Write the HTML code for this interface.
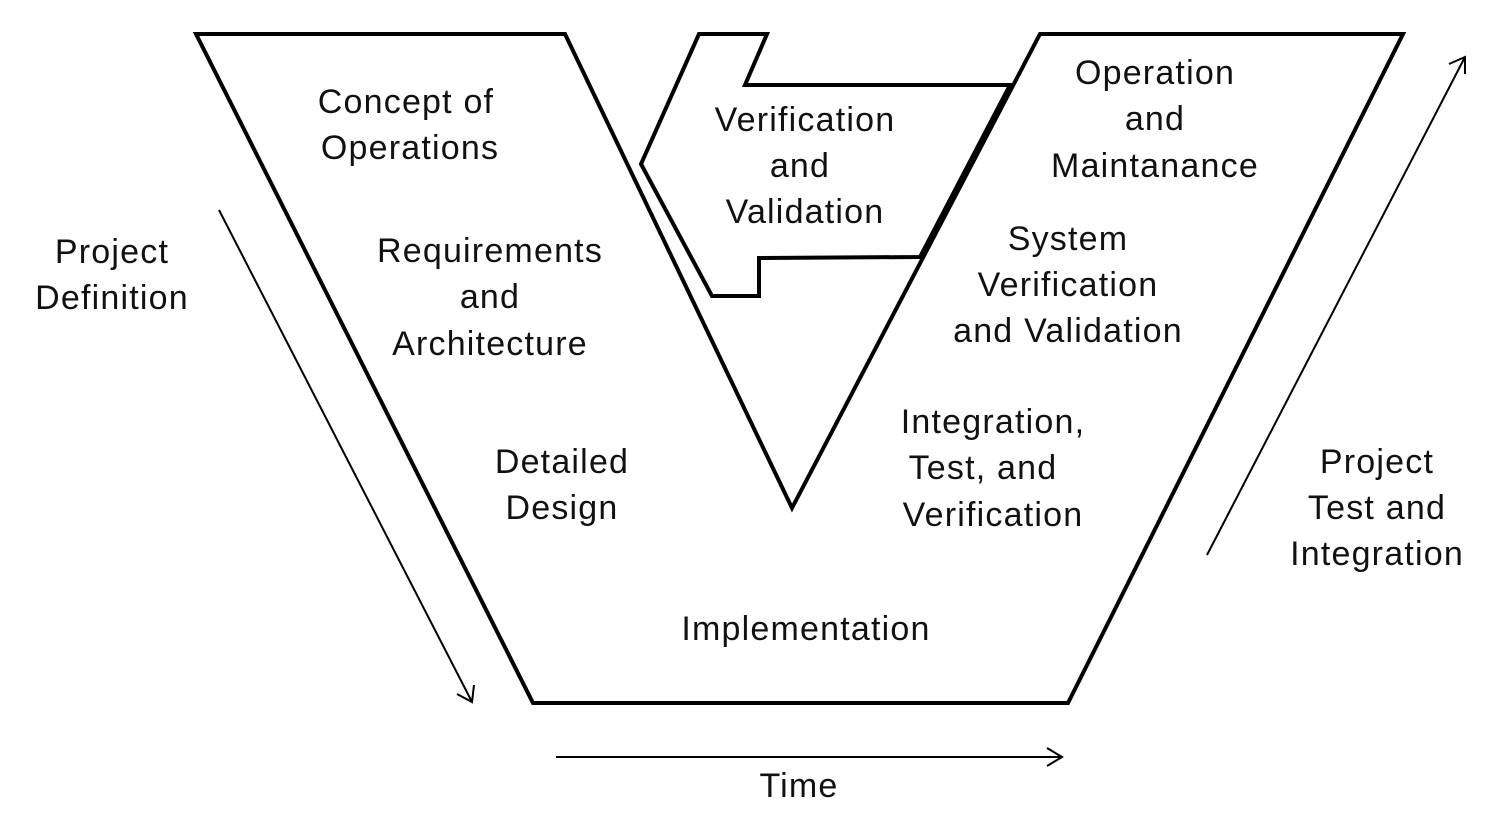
<!DOCTYPE html>
<html><head><meta charset="utf-8"><style>
html,body{margin:0;padding:0;background:#fff;}
svg{display:block;}
text{font-family:"Liberation Sans",sans-serif;font-size:34px;fill:#111;text-anchor:middle;letter-spacing:1.2px;}
</style></head><body>
<svg width="1490" height="828" viewBox="0 0 1490 828" xmlns="http://www.w3.org/2000/svg">
<g fill="none" stroke="#000" stroke-width="4" stroke-linejoin="miter">
<polygon points="196,34 565,34 792,508 1040,34 1403,34 1068,703 533,703"/>
<polygon points="699,34 767,34 745,85 1010,85 920,257 759,258 759,296 712,296 641,164"/>
</g>
<g stroke="#000" stroke-width="2" fill="none">
<line x1="219" y1="210" x2="472" y2="702"/>
<polyline points="457,694 472,702 474,685"/>
<line x1="1207" y1="555" x2="1465" y2="57"/>
<polyline points="1449,64 1465,57 1465,74"/>
<line x1="556" y1="757" x2="1062" y2="757"/>
<polyline points="1047,748 1062,757 1047,766"/>
</g>
<text x="112" y="263">Project</text><text x="112" y="309">Definition</text>
<text x="406" y="113">Concept of</text><text x="410" y="159">Operations</text>
<text x="490" y="262">Requirements</text><text x="490" y="308">and</text><text x="490" y="355">Architecture</text>
<text x="562" y="473">Detailed</text><text x="562" y="519">Design</text>
<text x="806" y="640">Implementation</text>
<text x="993" y="433">Integration,</text><text x="983" y="479">Test, and</text><text x="993" y="526">Verification</text>
<text x="1068" y="250">System</text><text x="1068" y="296">Verification</text><text x="1068" y="342">and Validation</text>
<text x="1155" y="84">Operation</text><text x="1155" y="130">and</text><text x="1155" y="177">Maintanance</text>
<text x="805" y="131">Verification</text><text x="800" y="177">and</text><text x="805" y="223">Validation</text>
<text x="1377" y="473">Project</text><text x="1377" y="519">Test and</text><text x="1377" y="565">Integration</text>
<text x="799" y="797">Time</text>
</svg>
</body></html>
